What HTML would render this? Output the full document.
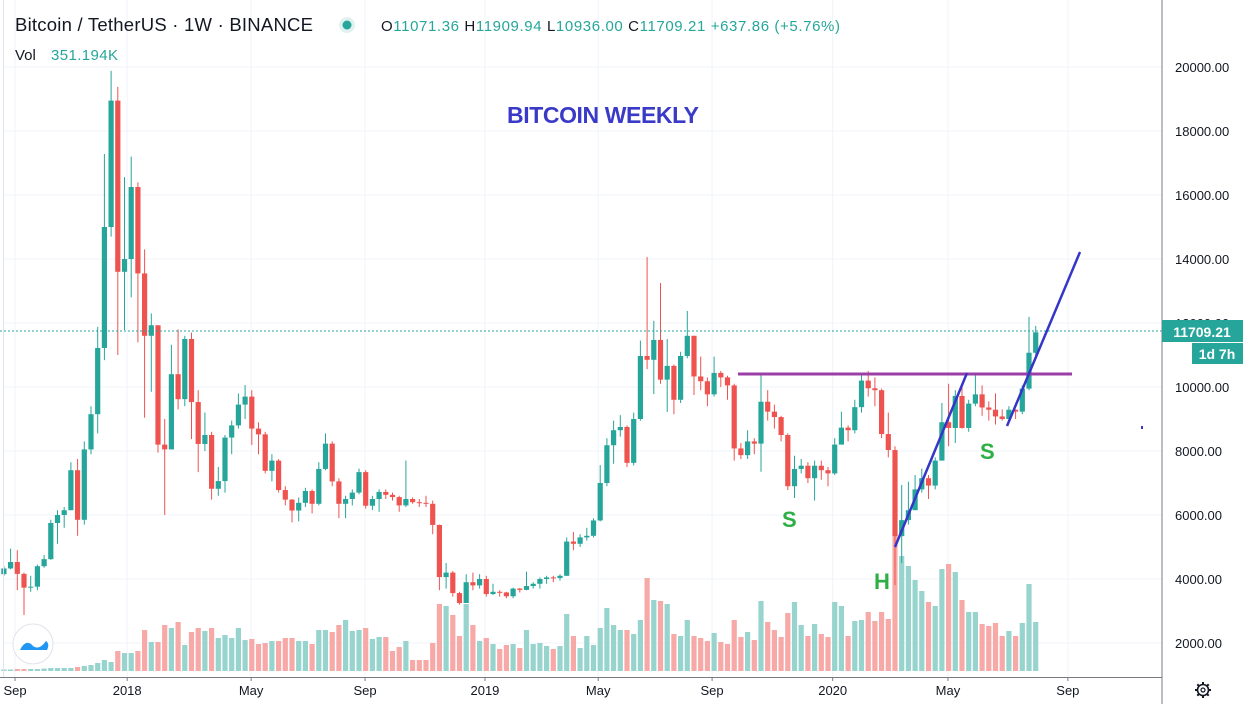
<!DOCTYPE html>
<html><head><meta charset="utf-8">
<style>
html,body{margin:0;padding:0;background:#fff;}
body{width:1248px;height:704px;overflow:hidden;font-family:"Liberation Sans",sans-serif;}
svg{display:block}
</style></head>
<body>
<svg id="chart" width="1248" height="704" xmlns="http://www.w3.org/2000/svg">
  <rect x="0" y="0" width="1248" height="704" fill="#ffffff"/>
  <g id="grid"></g>
  <g id="vols"></g>
  <g id="candles"></g>
  <line x1="0" y1="331" x2="1162" y2="331" stroke="#26a69a" stroke-width="1" stroke-dasharray="2,2"/>
  <line x1="738" y1="374" x2="1072" y2="374" stroke="#9b3fa6" stroke-width="3"/>
  <line x1="895" y1="547" x2="967" y2="373" stroke="#3535c8" stroke-width="2.5"/>
  <line x1="1007" y1="426" x2="1080" y2="252" stroke="#3535c8" stroke-width="2.5"/>
  <rect x="1141" y="426" width="2" height="3" fill="#3535c8"/>
  <text x="507" y="123" font-size="23" font-weight="bold" fill="#3a3ac8" textLength="192">BITCOIN WEEKLY</text>
  <text x="782" y="527" font-size="22" font-weight="bold" fill="#2eaf46">S</text>
  <text x="874" y="589" font-size="22" font-weight="bold" fill="#2eaf46">H</text>
  <text x="980" y="459" font-size="22" font-weight="bold" fill="#2eaf46">S</text>
  <!-- axes -->
  <line x1="1162" y1="0" x2="1162" y2="704" stroke="#787b86" stroke-width="1"/>
  <line x1="0" y1="677.5" x2="1162" y2="677.5" stroke="#787b86" stroke-width="1"/>
  <line x1="3.5" y1="0" x2="3.5" y2="677" stroke="#e0e3eb" stroke-width="1"/>
  <g id="yticks"></g>
  <g id="xticks"></g>
  <rect x="1162" y="320" width="81" height="22" fill="#26a69a"/>
  <text x="1202" y="337" font-size="14" font-weight="bold" fill="#fff" text-anchor="middle">11709.21</text>
  <rect x="1192" y="343" width="51" height="21" fill="#26a69a"/>
  <text x="1217" y="359" font-size="14" font-weight="bold" fill="#fff" text-anchor="middle">1d 7h</text>
  <!-- header -->
  <text x="15" y="31" font-size="18.5" fill="#131722" textLength="298">Bitcoin / TetherUS · 1W · BINANCE</text>
  <circle cx="347" cy="25" r="8" fill="#e0f2f0"/>
  <circle cx="347" cy="25" r="4.5" fill="#26a69a"/>
  <text x="381" y="31" font-size="15" fill="#26a69a" textLength="459"><tspan fill="#131722">O</tspan>11071.36 <tspan fill="#131722">H</tspan>11909.94 <tspan fill="#131722">L</tspan>10936.00 <tspan fill="#131722">C</tspan>11709.21 +637.86 (+5.76%)</text>
  <text x="15" y="60" font-size="15" fill="#131722">Vol</text>
  <text x="51" y="60" font-size="15" fill="#26a69a" textLength="67">351.194K</text>
  <!-- logo -->
  <circle cx="33" cy="644" r="20" fill="#fff" stroke="#e0e3eb" stroke-width="1"/>
  <path d="M20 650 q6 -12 13 -4 q6 5 13 -5 q4 3 1 9 z" fill="#2196f3"/>
  <!-- gear -->
  <g transform="translate(1203,690)">
    <circle r="5.5" fill="none" stroke="#131722" stroke-width="1.6"/>
    <circle r="2" fill="none" stroke="#131722" stroke-width="1.2"/>
    <g stroke="#131722" stroke-width="2"><line x1="0" y1="-8" x2="0" y2="-5.5"/><line x1="0" y1="8" x2="0" y2="5.5"/><line x1="-8" y1="0" x2="-5.5" y2="0"/><line x1="8" y1="0" x2="5.5" y2="0"/><line x1="-5.7" y1="-5.7" x2="-3.9" y2="-3.9"/><line x1="5.7" y1="5.7" x2="3.9" y2="3.9"/><line x1="-5.7" y1="5.7" x2="-3.9" y2="3.9"/><line x1="5.7" y1="-5.7" x2="3.9" y2="-3.9"/></g>
  </g>
</svg>
<script>
// Weekly candles from 2017-08-21 to 2020-08-03
const firstOpen = 4150;
const closes = [4330,4530,4160,3730,3760,4400,4620,5750,6000,6150,7400,5850,8050,9150,11220,15000,18950,13600,14000,16250,13550,11600,11930,8200,8050,10400,9620,11500,9530,8220,8500,6820,7060,8420,8800,9450,9700,8700,8520,7380,7700,6780,6480,6140,6380,6750,6350,7440,8230,7050,6350,6500,6700,7340,6290,6500,6720,6630,6560,6300,6500,6400,6380,6350,5690,4060,4200,3560,3250,3900,3800,4000,3530,3600,3580,3460,3700,3660,3780,3850,4000,4050,4030,4100,5170,5100,5300,5350,5830,7000,8180,8650,8750,7630,9000,10970,10850,11470,10230,10660,9600,10970,11600,10330,10180,9770,10440,10300,10050,8080,7870,8300,8230,9540,9230,9060,8500,6900,7440,7540,7150,7540,7400,7300,8200,8730,8650,9370,10200,9960,9900,8530,8030,5340,5840,6150,6800,7150,6920,7700,8900,8720,9720,8720,9480,9770,9360,9290,9080,9000,9290,9230,9950,11071,11709];
const highs = [4400,4950,4900,4200,4100,4450,4750,5850,6150,6250,7650,7750,8300,9400,11880,17280,19880,19380,16560,17200,16400,14300,12300,11930,9000,11320,11800,11600,11700,9900,9200,8600,7500,8500,8950,9800,10060,9900,8900,8600,7900,7750,6900,6500,6550,6850,6800,7650,8550,8300,7150,6600,6800,7450,7400,6600,6800,6800,6700,6600,7700,6550,6500,6600,6450,5700,4500,4250,3600,4150,4200,4150,4100,3850,3650,3600,3730,3720,4230,3900,4050,4100,4100,4150,5300,5470,5400,5600,5900,7560,8400,8950,9120,8800,9200,11450,14060,12070,13250,11500,10700,11100,12375,11600,10950,10300,10950,10500,10350,10100,8250,8650,8400,10400,9900,9450,9100,8550,7850,7750,7650,7700,7700,7500,8400,9230,8800,9600,10400,10500,10300,9950,9200,8150,6940,7040,7250,7450,7250,7800,9500,10100,9900,10000,9600,10400,10050,9550,9800,9300,9400,9300,10050,12190,11910];
const lows = [4100,4300,3650,2880,3600,3650,4350,4600,5100,5600,6150,5350,5700,7900,8550,10840,14700,11000,11780,12800,11400,9040,9850,7950,6000,8050,9300,9400,8370,7340,8000,6480,6600,6700,7900,8700,9000,8190,7900,7300,7050,6700,6300,5770,5800,6250,6050,6300,7400,6900,5900,5900,6300,6650,6200,6150,6100,6500,6450,6100,6250,6350,6250,6250,5400,3650,3700,3450,3200,3250,3650,3700,3450,3500,3450,3400,3400,3580,3650,3700,3700,3850,3900,3950,4100,4900,5000,5200,5300,5800,6900,7600,8450,7500,7550,8950,10560,9780,10100,9220,9150,9500,10900,9750,9900,9400,9700,10000,9600,7700,7750,7750,7900,7350,8950,8700,8300,6780,6530,7300,7000,6450,7100,6900,7250,8200,8300,8550,9200,9700,9400,8400,7800,3810,4500,5700,6200,6700,6500,6800,7700,8150,8250,8700,8600,9400,9100,8950,8830,8950,8950,9000,9150,9900,10936];
// volume in units of 7.2K BTC
const volumes = [1.5,1.5,2,2,2,2,2.5,3,3,3,3,4,5,6,8,11,9,20,18,18,20,41,29,29,46,43,49,26,39,43,40,43,33,36,33,43,31,32,27,28,30,30,33,33,30,30,27,41,41,39,46,51,40,41,43,32,34,34,20,24,30,11,11,11,28,67,65,56,35,67,46,30,33,27,22,26,27,23,41,27,28,25,22,25,57,35,23,35,26,43,63,46,41,41,37,51,93,71,70,67,37,35,51,35,33,30,38,29,27,51,34,39,31,70,49,41,34,58,69,46,35,47,37,34,69,65,35,50,51,59,50,59,52,136,115,105,91,80,69,65,102,107,99,71,59,59,47,45,48,35,40,35,48,87,49];
const priceTicks = [2000,4000,6000,8000,10000,12000,14000,16000,18000,20000];
const timeLabels = ["Sep","2018","May","Sep","2019","May","Sep","2020","May","Sep"];
const timeLabelWeeks = [1.66,18.4,36.9,53.9,71.8,88.7,105.7,123.7,140.9,158.8];

const NS = "http://www.w3.org/2000/svg";
function yScale(p){ return 643 - (p - 2000) * 0.032; }
function xScale(i){ return 3.9 + i * 6.70; }
function vScale(v){ return v; }
const VOL_BASE = 671;
const UP = "#26a69a", DN = "#ef5350", UPV = "#98d4ce", DNV = "#f7a9a7";

function mk(tag, attrs, parent){
  const el = document.createElementNS(NS, tag);
  for (const k in attrs) el.setAttribute(k, attrs[k]);
  parent.appendChild(el);
  return el;
}

const grid = document.getElementById("grid");
const yt = document.getElementById("yticks");
priceTicks.forEach(function(p){
  const y = yScale(p);
  const gl = mk("line", {x1:4, x2:1162, y1:y, y2:y, stroke:"#f0f3fa", "stroke-width":1}, grid);
  
  
  const t = mk("text", {x:1175, y:y+5, "font-size":13, fill:"#131722"}, yt);
  
  
  t.textContent = p.toFixed(2);
});
const xt = document.getElementById("xticks");
timeLabels.forEach(function(lab, k){
  const x = xScale(timeLabelWeeks[k]);
  const gl = mk("line", {x1:x, x2:x, y1:0, y2:677, stroke:"#f0f3fa", "stroke-width":1}, grid);
  
  
  const tk = mk("line", {x1:x, x2:x, y1:677, y2:681, stroke:"#787b86", "stroke-width":1}, xt);
  
  
  const t = mk("text", {x:x, y:695, "font-size":13, fill:"#131722", "text-anchor":"middle"}, xt);
  
  
  t.textContent = lab;
});

const vg = document.getElementById("vols");
const cg = document.getElementById("candles");
closes.forEach(function(c, i){
  const o = i === 0 ? firstOpen : closes[i-1];
  const up = c >= o;
  const x = xScale(i);
  const vh = vScale(volumes[i]);
  const vb = mk("rect", {x:x-2.6, y:VOL_BASE-vh, width:5.2, height:vh, fill: up?UPV:DNV}, vg);
  
  
  const wk = mk("line", {x1:x, x2:x, y1:yScale(highs[i]), y2:yScale(lows[i]), stroke: up?UP:DN, "stroke-width":1}, cg);
  
  
  const top = yScale(Math.max(o,c)), bot = yScale(Math.min(o,c));
  const bd = mk("rect", {x:x-2.6, y:top, width:5.2, height:Math.max(1, bot-top), fill: up?UP:DN}, cg);
  
  
});
</script>
</body></html>
